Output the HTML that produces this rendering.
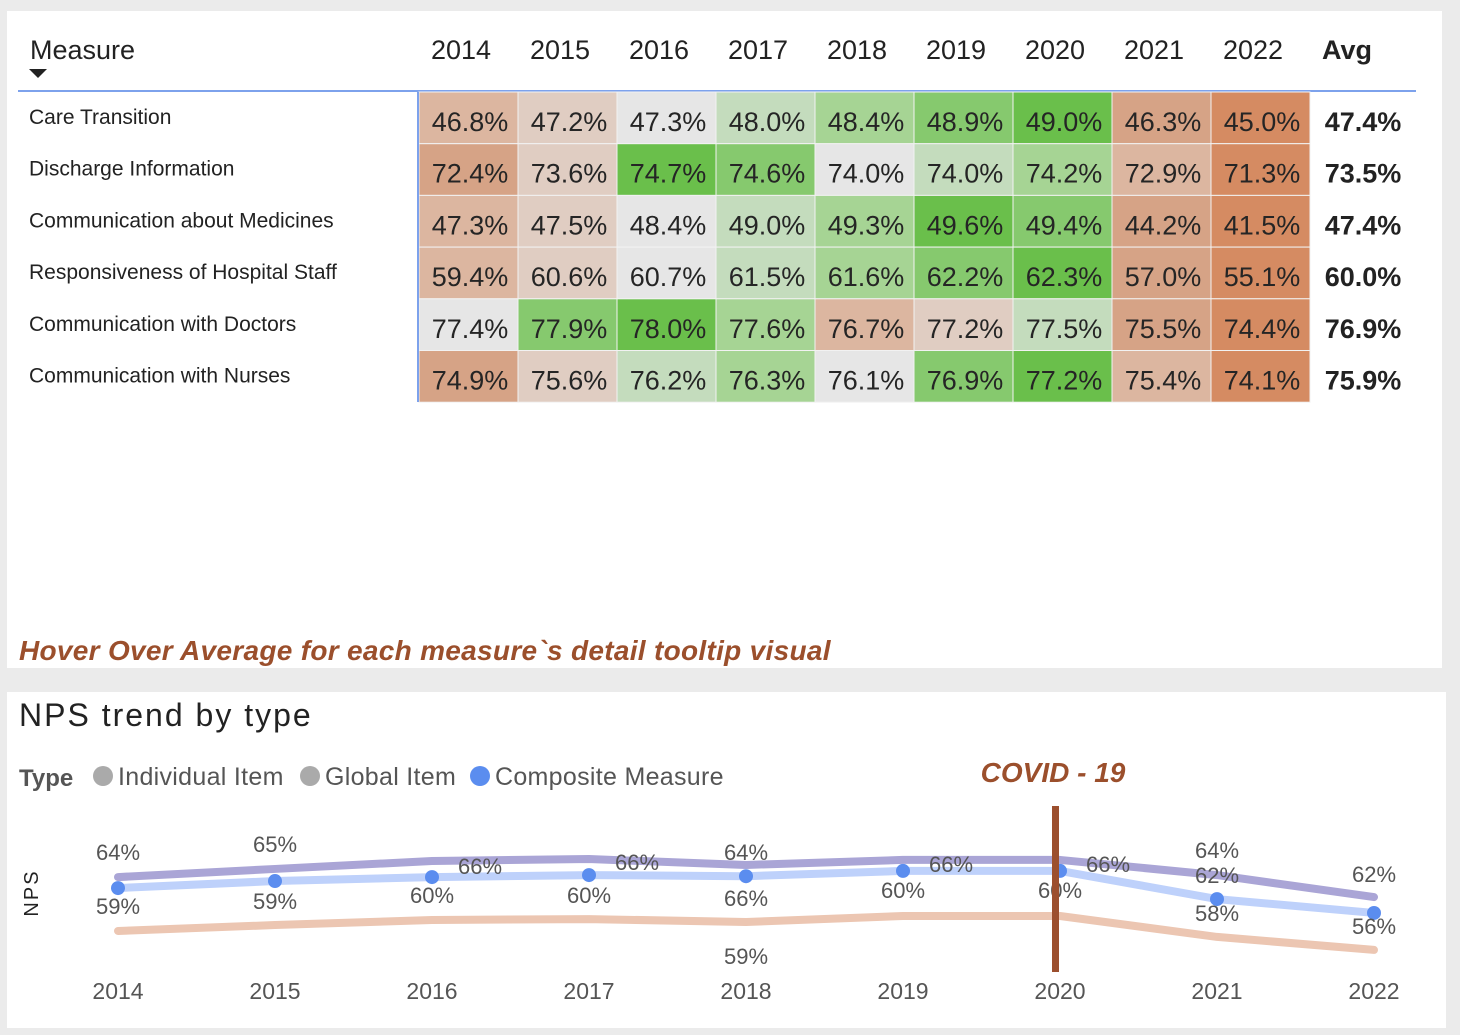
<!DOCTYPE html>
<html><head><meta charset="utf-8">
<style>
body{margin:0;width:1460px;height:1035px;background:#ebebeb;font-family:"Liberation Sans",sans-serif;position:relative;overflow:hidden}
.panel{position:absolute;background:#fff}
</style></head>
<body>
<div class="panel" style="left:7px;top:11px;width:1435px;height:657px"></div>
<div class="panel" style="left:7px;top:692px;width:1439px;height:336px"></div>
<svg id="tbl" width="1460" height="1035" style="position:absolute;left:0;top:0"></svg>
<svg id="chart" width="1460" height="1035" style="position:absolute;left:0;top:0"></svg>
<script>
const years=['2014','2015','2016','2017','2018','2019','2020','2021','2022'];
const measures=['Care Transition','Discharge Information','Communication about Medicines','Responsiveness of Hospital Staff','Communication with Doctors','Communication with Nurses'];
const row0=[46.8,47.2,47.3,48.0,48.4,48.9,49.0,46.3,45.0];
const row1=[72.4,73.6,74.7,74.6,74.0,74.0,74.2,72.9,71.3];
const row2=[47.3,47.5,48.4,49.0,49.3,49.6,49.4,44.2,41.5];
const row3=[59.4,60.6,60.7,61.5,61.6,62.2,62.3,57.0,55.1];
const row4=[77.4,77.9,78.0,77.6,76.7,77.2,77.5,75.5,74.4];
const row5=[74.9,75.6,76.2,76.3,76.1,76.9,77.2,75.4,74.1];
const avgs=[47.4,73.5,47.4,60.0,76.9,75.9];
const rows=[row0,row1,row2,row3,row4,row5];
const palette=['#d58b62','#d6a386','#dcb6a0','#e0cdc2','#e6e6e6','#c4dcbd','#a6d494','#86c96e','#6abf4b'];
const NS='http://www.w3.org/2000/svg';
function mk(svg,tag,attrs,text){const e=document.createElementNS(NS,tag);for(const k in attrs)e.setAttribute(k,attrs[k]);if(text!==undefined)e.textContent=text;svg.appendChild(e);return e;}
const T=document.getElementById('tbl');
const colX=i=>419+i*99, rowY=r=>92+r*51.7;
let h=mk(T,'text',{x:30,y:59,'font-size':27,fill:'#222'},'Measure');


let ar=mk(T,'path',{d:'M29,69 L47,69 L38,78 Z',fill:'#222'});


years.forEach((y,i)=>{const t=mk(T,'text',{x:colX(i)+42,y:59,'font-size':27,fill:'#222','text-anchor':'middle'},y);

});
let av=mk(T,'text',{x:1347,y:59,'font-size':27,'font-weight':'bold',fill:'#222','text-anchor':'middle'},'Avg');


mk(T,'line',{x1:18,x2:1416,y1:91,y2:91,stroke:'#7da2ec','stroke-width':2});
rows.forEach((vals,r)=>{
  const order=vals.map((v,i)=>[v,i]).sort((a,b)=>a[0]-b[0]||a[1]-b[1]);
  const rank=[];order.forEach((o,k)=>rank[o[1]]=k);
  const lb=mk(T,'text',{x:29,y:rowY(r)+32,'font-size':21,fill:'#222'},measures[r]);
  
  
  vals.forEach((v,i)=>{
    const c=mk(T,'rect',{x:colX(i),y:rowY(r),width:99,height:51.7,fill:palette[Math.round(rank[i]*8/(vals.length-1))],stroke:'#f2f2f2','stroke-width':1});
    
    
    const t=mk(T,'text',{x:colX(i)+51,y:rowY(r)+39,'font-size':27,fill:'#252525','text-anchor':'middle'},v.toFixed(1)+'%');
    
    
  });
  const a=mk(T,'text',{x:1363,y:rowY(r)+39,'font-size':27,'font-weight':'bold',fill:'#222','text-anchor':'middle'},avgs[r].toFixed(1)+'%');
  
  
});
mk(T,'line',{x1:418,x2:418,y1:92,y2:402,stroke:'#7da2ec','stroke-width':2});
let hv=mk(T,'text',{x:19,y:660,'font-size':28,'font-weight':'bold','font-style':'italic',fill:'#9b4f2c','letter-spacing':'0.3'},'Hover Over Average for each measure`s detail tooltip visual');



// chart
const globalVals=[63.6,67.3,70.9,71.8,69.1,71.4,71.4,64.5,54.5];
const compositeVals=[58.6,61.8,63.6,64.5,64.0,66.4,66.4,53.6,47.3];
const individualVals=[39.1,41.8,44.1,44.5,43.2,45.9,45.9,36.4,30.5];
const labelYear=[0,0,1,1,2,2,3,3,4,4,4,5,5,6,6,7,7,7,8,8];
const labelText=['64%','59%','65%','59%','66%','60%','66%','60%','64%','66%','59%','66%','60%','66%','60%','64%','62%','58%','62%','56%'];
const labelDx=[0,0,0,0,48,0,48,0,0,0,0,48,0,48,0,0,0,0,0,0];
const labelY=[852,906,844,901,866,895,862,895,852,898,956,864,890,864,890,850,875,913,874,926];
const C=document.getElementById('chart');
const xS=i=>118+i*157, yS=v=>1017-v*2.2;
let tt=mk(C,'text',{x:19,y:726,'font-size':32,fill:'#222','letter-spacing':'2'},'NPS trend by type');


let ty=mk(C,'text',{x:19,y:786,'font-size':24,'font-weight':'bold',fill:'#555'},'Type');


[['Individual Item','#aaaaaa',103],['Global Item','#aaaaaa',310],['Composite Measure','#5b8def',480]].forEach(l=>{
  const c=mk(C,'circle',{cx:l[2],cy:776,r:10,fill:l[1]});
  
  
  const t=mk(C,'text',{x:l[2]+15,y:785,'font-size':25,fill:'#555','letter-spacing':'0.3'},l[0]);
  
  
});
let cv=mk(C,'text',{x:1053,y:782,'font-size':28,'font-weight':'bold','font-style':'italic',fill:'#9b4f2c','text-anchor':'middle'},'COVID - 19');


let yl=mk(C,'text',{x:0,y:0,'font-size':20,fill:'#222','text-anchor':'middle',transform:'translate(38,893) rotate(-90)','letter-spacing':'2'},'NPS');


function line(vals,color,name){
  const p=mk(C,'polyline',{points:vals.map((v,i)=>xS(i)+','+yS(v)).join(' '),fill:'none',stroke:color,'stroke-width':8,'stroke-linejoin':'round','stroke-linecap':'round'});
  
  
}
line(individualVals,'#ecc6b2','individual-item-line');
line(globalVals,'#aaa5d6','global-item-line');
line(compositeVals,'#bed1fb','composite-measure-line');
compositeVals.forEach((v,i)=>{const c=mk(C,'circle',{cx:xS(i),cy:yS(v),r:7,fill:'#5b8def'});

});
labelText.forEach((t,k)=>{const e=mk(C,'text',{x:xS(labelYear[k])+labelDx[k],y:labelY[k]+8,'font-size':22,fill:'#555','text-anchor':'middle'},t);

});
years.forEach((y,i)=>{const e=mk(C,'text',{x:xS(i),y:999,'font-size':23,fill:'#555','text-anchor':'middle'},y);

});
let cl=mk(C,'rect',{x:1052,y:806,width:7,height:166,fill:'#9c4f2e'});


</script>
</body></html>
